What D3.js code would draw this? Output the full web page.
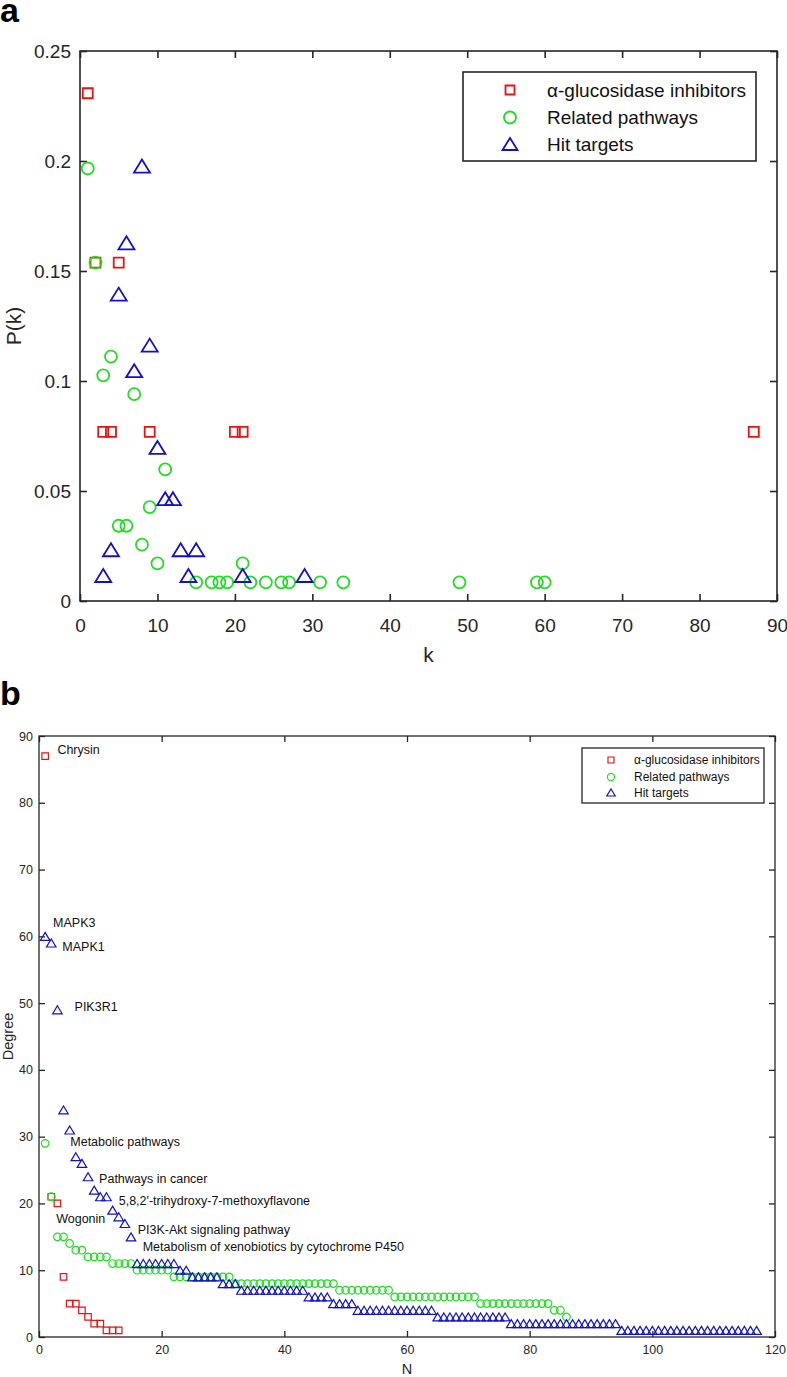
<!DOCTYPE html>
<html>
<head>
<meta charset="utf-8">
<script src="https://cdn.jsdelivr.net/npm/d3@7"></script>
<style>
  body { margin: 0; background: #fff; }
  text { font-family: "Liberation Sans", Arial, Helvetica, sans-serif; }
</style>
</head>
<body>
<svg id="chart" width="787" height="1377"></svg>
<script>
// ---- panel a : degree distribution P(k) ----
const inhibK = [1, 2, 3, 4, 5, 9, 20, 21, 87];
const inhibP = [0.2308, 0.1538, 0.0769, 0.0769, 0.1538, 0.0769, 0.0769, 0.0769, 0.0769];

const pathK = [1, 2, 3, 4, 5, 6, 7, 8, 9, 10, 11, 15, 17, 18, 19, 21, 22, 24, 26, 27, 31, 34, 49, 59, 60];
const pathP = [0.1966, 0.1538, 0.1026, 0.1111, 0.0342, 0.0342, 0.0940, 0.0256, 0.0427, 0.0171, 0.0598,
               0.0085, 0.0085, 0.0085, 0.0085, 0.0171, 0.0085, 0.0085, 0.0085, 0.0085, 0.0085, 0.0085,
               0.0085, 0.0085, 0.0085];

const targetK = [3, 4, 5, 6, 7, 8, 9, 10, 11, 12, 13, 14, 15, 21, 29];
const targetP = [0.0116, 0.0233, 0.1395, 0.1628, 0.1047, 0.1977, 0.1163, 0.0698, 0.0465, 0.0465,
                 0.0233, 0.0116, 0.0233, 0.0116, 0.0116];

const kTicks = [0, 10, 20, 30, 40, 50, 60, 70, 80, 90];
const pTicks = [0, 0.05, 0.1, 0.15, 0.2, 0.25];

// ---- panel b : sorted degrees (N = rank) ----
const inhibDeg = [87, 21, 20, 9, 5, 5, 4, 3, 2, 2, 1, 1, 1];

const pathDeg = [29, 21, 15, 15, 14, 13, 13, 12, 12, 12, 12, 11, 11, 11, 11,
                 10, 10, 10, 10, 10, 10,
                 9, 9, 9, 9, 9, 9, 9, 9, 9, 9,
                 8, 8, 8, 8, 8, 8, 8, 8, 8, 8, 8, 8, 8, 8, 8, 8, 8,
                 7, 7, 7, 7, 7, 7, 7, 7, 7,
                 6, 6, 6, 6, 6, 6, 6, 6, 6, 6, 6, 6, 6, 6,
                 5, 5, 5, 5, 5, 5, 5, 5, 5, 5, 5, 5,
                 4, 4, 3];

const targetDeg = [60, 59, 49, 34, 31, 27, 26, 24, 22, 21, 21, 19, 18, 17, 15,
                   11, 11, 11, 11, 11, 11, 11,
                   10, 10,
                   9, 9, 9, 9, 9,
                   8, 8, 8,
                   7, 7, 7, 7, 7, 7, 7, 7, 7, 7, 7,
                   6, 6, 6, 6,
                   5, 5, 5, 5,
                   4, 4, 4, 4, 4, 4, 4, 4, 4, 4, 4, 4, 4,
                   3, 3, 3, 3, 3, 3, 3, 3, 3, 3, 3, 3,
                   2, 2, 2, 2, 2, 2, 2, 2, 2, 2, 2, 2, 2, 2, 2, 2, 2, 2,
                   1, 1, 1, 1, 1, 1, 1, 1, 1, 1, 1, 1, 1, 1, 1, 1, 1, 1, 1, 1, 1, 1, 1];

const nTicks = [0, 20, 40, 60, 80, 100, 120];
const degTicks = [0, 10, 20, 30, 40, 50, 60, 70, 80, 90];

// text labels, anchored in data units (N, Degree)
const noteText = ["Chrysin", "MAPK3", "MAPK1", "PIK3R1", "Metabolic pathways", "Pathways in cancer",
                  "5,8,2'-trihydroxy-7-methoxyflavone", "Wogonin", "PI3K-Akt signaling pathway",
                  "Metabolism of xenobiotics by cytochrome P450"];
const noteN = [3, 2.3, 3.8, 5.8, 5.1, 9.8, 13, 2.8, 16.1, 16.9];
const noteDeg = [88, 62, 58.4, 49.4, 29.3, 23.7, 20.4, 17.7, 16.1, 13.5];

const seriesNames = ["\u03b1-glucosidase inhibitors", "Related pathways", "Hit targets"];
const seriesColors = ["#ee1111", "#22dd22", "#1111cc"];
const seriesShapes = ["square", "circle", "triangle"];

const axisColor = "#262626";
const svg = d3.select("#chart");

// marker path, centred on 0,0
function marker(shape, s) {
    if (shape === "square") {
        return `M${-s.sq / 2},${-s.sq / 2}h${s.sq}v${s.sq}h${-s.sq}Z`;
    }
    if (shape === "circle") {
        const r = s.r;
        return `M${r},0A${r},${r} 0 1,1 ${-r},0A${r},${r} 0 1,1 ${r},0Z`;
    }
    return `M0,${-s.th / 2}L${s.tw / 2},${s.th / 2}L${-s.tw / 2},${s.th / 2}Z`;
}

function drawPanel(opt) {
    const g = svg.append("g").attr("transform", `translate(${opt.left},${opt.top})`);
    const x = d3.scaleLinear().domain(opt.xDomain).range([0, opt.width]);
    const y = d3.scaleLinear().domain(opt.yDomain).range([opt.height, 0]);

    // axes with inward ticks, mirrored on top and right
    const bottom = g.append("g").attr("transform", `translate(0,${opt.height})`)
        .call(d3.axisBottom(x).tickValues(opt.xTicks).tickSize(-opt.tick).tickPadding(opt.xPad)
            .tickFormat(d3.format("")));
    const left = g.append("g")
        .call(d3.axisLeft(y).tickValues(opt.yTicks).tickSize(-opt.tick).tickPadding(opt.yPad)
            .tickFormat(d => +d.toFixed(2) + ""));
    const top = g.append("g")
        .call(d3.axisTop(x).tickValues(opt.xTicks).tickSize(-opt.tick).tickFormat(""));
    const right = g.append("g").attr("transform", `translate(${opt.width},0)`)
        .call(d3.axisRight(y).tickValues(opt.yTicks).tickSize(-opt.tick).tickFormat(""));

    [bottom, left, top, right].forEach(a => {
        a.select(".domain").remove();
        a.selectAll("line").attr("stroke", axisColor).attr("stroke-width", opt.axisWidth);
        a.selectAll("text").attr("fill", axisColor).style("font-size", opt.tickFont + "px")
            .style("font-family", "'Liberation Sans', Arial, sans-serif");
    });

    g.append("rect")
        .attr("width", opt.width).attr("height", opt.height)
        .attr("fill", "none").attr("stroke", axisColor).attr("stroke-width", opt.axisWidth);

    // markers
    opt.series.forEach((s, i) => {
        g.append("g").selectAll("path")
            .data(s.xs.map((v, j) => [v, s.ys[j]]))
            .enter()
            .append("path")
            .attr("transform", d => `translate(${x(d[0])},${y(d[1])})`)
            .attr("d", marker(seriesShapes[i], opt.size))
            .attr("fill", "none")
            .attr("stroke", seriesColors[i])
            .attr("stroke-width", opt.markWidth);
    });

    // axis titles
    g.append("text")
        .attr("x", opt.width / 2).attr("y", opt.height + opt.xTitleOff)
        .attr("text-anchor", "middle").attr("fill", axisColor)
        .style("font-size", opt.titleFont + "px")
        .text(opt.xTitle);
    g.append("text")
        .attr("transform", `translate(${-opt.left + opt.yTitleX},${opt.height / 2}) rotate(-90)`)
        .attr("text-anchor", "middle").attr("fill", axisColor)
        .style("font-size", opt.titleFont + "px")
        .text(opt.yTitle);

    // legend
    const lg = svg.append("g");
    lg.append("rect")
        .attr("x", opt.legend.x0).attr("y", opt.legend.y0)
        .attr("width", opt.legend.x1 - opt.legend.x0).attr("height", opt.legend.y1 - opt.legend.y0)
        .attr("fill", "#fff").attr("stroke", axisColor).attr("stroke-width", opt.axisWidth);
    seriesNames.forEach((name, i) => {
        const ry = opt.legend.rows[i];
        lg.append("path")
            .attr("transform", `translate(${opt.legend.mx},${ry})`)
            .attr("d", marker(seriesShapes[i], opt.legend.size))
            .attr("fill", "none").attr("stroke", seriesColors[i])
            .attr("stroke-width", opt.markWidth);
        lg.append("text")
            .attr("x", opt.legend.tx).attr("y", ry).attr("dy", "0.35em")
            .attr("fill", "#111")
            .style("font-size", opt.legend.font + "px")
            .text(name);
    });

    // panel letter
    svg.append("text")
        .attr("x", 0).attr("y", opt.letterY)
        .style("font-size", "34px").style("font-weight", "bold")
        .text(opt.letter);

    return {g, x, y};
}

drawPanel({
    letter: "a", letterY: 22,
    left: 80, top: 51, width: 697, height: 550,
    xDomain: [0, 90], yDomain: [0, 0.25],
    xTicks: kTicks, yTicks: pTicks,
    tick: 7, xPad: 17.5, yPad: 9, tickFont: 19, axisWidth: 1.6,
    titleFont: 21, xTitle: "k", yTitle: "P(k)", xTitleOff: 61, yTitleX: 21,
    size: {sq: 10, r: 6, tw: 16, th: 13}, markWidth: 1.8,
    series: [{xs: inhibK, ys: inhibP}, {xs: pathK, ys: pathP}, {xs: targetK, ys: targetP}],
    legend: {x0: 463, x1: 756, y0: 72, y1: 161, mx: 510, tx: 547, rows: [90, 117.5, 144],
             font: 19, size: {sq: 9, r: 6, tw: 15, th: 12}}
});

const pb = drawPanel({
    letter: "b", letterY: 705,
    left: 39, top: 736, width: 736, height: 601,
    xDomain: [0, 120], yDomain: [0, 90],
    xTicks: nTicks, yTicks: degTicks,
    tick: 6, xPad: 8, yPad: 6, tickFont: 12.5, axisWidth: 1.3,
    titleFont: 14.5, xTitle: "N", yTitle: "Degree", xTitleOff: 37, yTitleX: 12.5,
    size: {sq: 6.5, r: 3.8, tw: 9.5, th: 8}, markWidth: 1.2,
    series: [
        {xs: inhibDeg.map((d, i) => i + 1), ys: inhibDeg},
        {xs: pathDeg.map((d, i) => i + 1), ys: pathDeg},
        {xs: targetDeg.map((d, i) => i + 1), ys: targetDeg}
    ],
    legend: {x0: 582, x1: 764, y0: 748, y1: 803, mx: 611, tx: 634, rows: [760, 777, 792.5],
             font: 12, size: {sq: 6, r: 3.6, tw: 8.5, th: 7}}
});

// annotations for panel b
pb.g.append("g").selectAll("text")
    .data(noteText)
    .enter()
    .append("text")
    .attr("x", (d, i) => pb.x(noteN[i]))
    .attr("y", (d, i) => pb.y(noteDeg[i]))
    .attr("dy", "0.35em")
    .attr("fill", "#111")
    .style("font-size", "12.5px")
    .text(d => d);
</script>
</body>
</html>
